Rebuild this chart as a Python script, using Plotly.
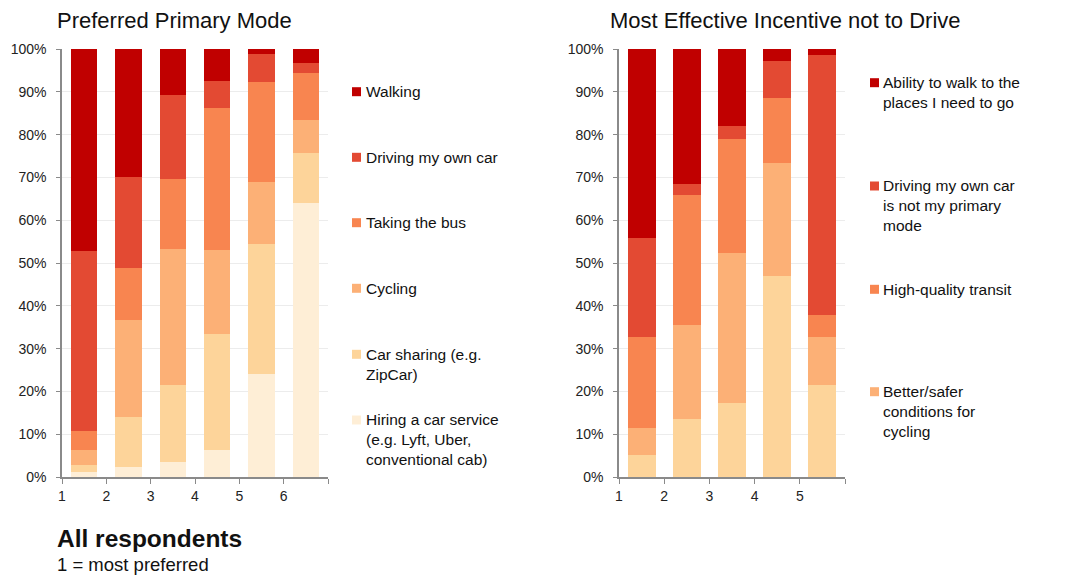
import plotly.graph_objects as go

# ---- Preferred primary mode: share of respondents per rank (1 = most preferred)
mode_ranks = [1, 2, 3, 4, 5, 6]
mode_names = [
    "Walking",
    "Driving my own car",
    "Taking the bus",
    "Cycling",
    "Car sharing (e.g.<br>ZipCar)",
    "Hiring a car service<br>(e.g. Lyft, Uber,<br>conventional cab)",
]
walking = [47.3, 29.8, 10.8, 7.4, 1.2, 3.3]
driving = [42.0, 21.4, 19.5, 6.5, 6.5, 2.2]
bus = [4.5, 12.1, 16.4, 33.0, 23.4, 11.1]
cycling = [3.5, 22.6, 31.8, 19.7, 14.4, 7.6]
car_sharing = [1.5, 11.8, 18.0, 27.0, 30.5, 11.8]
hiring = [1.2, 2.3, 3.5, 6.4, 24.0, 64.0]
mode_series = [walking, driving, bus, cycling, car_sharing, hiring]

# ---- Most effective incentive not to drive
inc_ranks = [1, 2, 3, 4, 5]
inc_names = [
    "Ability to walk to the<br>places I need to go",
    "Driving my own car<br>is not my primary<br>mode",
    "High-quality transit",
    "Better/safer<br>conditions for<br>cycling",
    "Other",
]
inc_walk = [44.1, 31.6, 18.1, 2.8, 1.4]
inc_not_primary = [23.1, 2.4, 3.0, 8.7, 60.7]
inc_transit = [21.3, 30.5, 26.6, 15.2, 5.1]
inc_cycling = [6.4, 22.0, 35.1, 26.4, 11.3]
inc_other = [5.1, 13.5, 17.2, 46.9, 21.5]
inc_series = [inc_walk, inc_not_primary, inc_transit, inc_cycling, inc_other]
inc_in_legend = [True, True, True, True, False]

mode_colors = ["#c00000", "#e34a33", "#f88550", "#fcb076", "#fdd49a", "#feeed6"]
inc_colors = ["#c00000", "#e34a33", "#f88550", "#fcb076", "#fdd49a"]

W, H = 1071, 575
FONT = "Liberation Sans, Arial, Helvetica, sans-serif"

fig = go.Figure()

# stack bottom-up: last series sits at the bottom
for name, vals, col in reversed(list(zip(mode_names, mode_series, mode_colors))):
    fig.add_trace(go.Bar(
        x=mode_ranks, y=vals, name=name.replace("<br>", " "), marker_color=col,
        marker_line_width=0, width=0.6, offset=0.2, showlegend=False,
        xaxis="x", yaxis="y",
        hovertemplate="Rank %{x}: %{y:.1f}%<extra>%{fullData.name}</extra>",
    ))

for name, vals, col in reversed(list(zip(inc_names, inc_series, inc_colors))):
    fig.add_trace(go.Bar(
        x=inc_ranks, y=vals, name=name.replace("<br>", " "), marker_color=col,
        marker_line_width=0, width=0.62, offset=0.19, showlegend=False,
        xaxis="x2", yaxis="y2",
        hovertemplate="Rank %{x}: %{y:.1f}%<extra>%{fullData.name}</extra>",
    ))


def px_x(v):
    return v / W


def px_y(v):
    return 1 - v / H


ydom = [px_y(477), px_y(49)]

yaxis_style = dict(
    range=[0, 100], tickvals=list(range(0, 101, 10)),
    ticktext=[f"{v}%" for v in range(0, 101, 10)],
    showline=True, linecolor="#8a8a8a", linewidth=1.5,
    ticks="outside", ticklen=4, tickcolor="#8a8a8a", ticklabelstandoff=7,
    showgrid=True, gridcolor="#ececec", gridwidth=1,
    tickfont=dict(size=14, color="#222", family=FONT),
    zeroline=False, fixedrange=True, automargin=False,
)

xaxis_style = dict(
    showline=True, linecolor="#8a8a8a", linewidth=1.5,
    ticks="outside", ticklen=5, tickcolor="#8a8a8a",
    showgrid=False, zeroline=False, automargin=False,
    tickfont=dict(size=14, color="#222", family=FONT), fixedrange=True,
)

n1 = len(mode_ranks)
n2 = len(inc_ranks)
fig.update_layout(
    width=W, height=H, autosize=False,
    margin=dict(l=0, r=0, t=0, b=0, pad=0),
    paper_bgcolor="white", plot_bgcolor="white",
    barmode="stack", bargap=0,
    font=dict(family=FONT, color="#111"),
    xaxis=dict(domain=[px_x(62), px_x(328)], range=[1, n1 + 1],
               tickvals=list(range(1, n1 + 2)),
               ticktext=[str(r) for r in mode_ranks] + [""], **xaxis_style),
    yaxis=dict(domain=ydom, anchor="x", **yaxis_style),
    xaxis2=dict(domain=[px_x(619), px_x(845)], range=[1, n2 + 1],
                tickvals=list(range(1, n2 + 2)),
                ticktext=[str(r) for r in inc_ranks] + [""], anchor="y2", **xaxis_style),
    yaxis2=dict(domain=ydom, anchor="x2", **yaxis_style),
)

annotations = []
shapes = []


def text(x, y, s, size, bold=False, anchor="middle"):
    annotations.append(dict(
        xref="paper", yref="paper", x=px_x(x), y=px_y(y),
        xanchor="left", yanchor=anchor, showarrow=False, align="left",
        text=f"<b>{s}</b>" if bold else s,
        font=dict(size=size, color="#111", family=FONT),
    ))


# chart titles and footnote
text(55, 20, "Preferred Primary Mode", 22)
text(608, 20, "Most Effective Incentive not to Drive", 22)
text(55, 538, "All respondents", 24.5, bold=True)
text(55, 564, "1 = most preferred", 18.5)


def legend(names, colors, shown, sw_x, txt_x, first_lines, size):
    for name, col, show, yc in zip(names, colors, shown, first_lines):
        if not show:
            continue
        shapes.append(dict(
            type="rect", xref="paper", yref="paper", line_width=0, fillcolor=col,
            x0=px_x(sw_x), x1=px_x(sw_x + 9), y0=px_y(yc + 4.5), y1=px_y(yc - 4.5),
        ))
        text(txt_x, yc - 10.8, name, size, anchor="top")


legend(mode_names, mode_colors, [True] * len(mode_names), 352, 364,
       [91.7, 157.3, 222.7, 288.3, 354.3, 420.0], 15.5)
legend(inc_names, inc_colors, inc_in_legend, 870, 881,
       [82.7, 186.0, 289.3, 391.7], 15.5)

fig.update_layout(annotations=annotations, shapes=shapes)

# the page body gets no default margin so the figure fills the window exactly
fig.write_html("out.html", post_script="document.body.style.margin='0';")
